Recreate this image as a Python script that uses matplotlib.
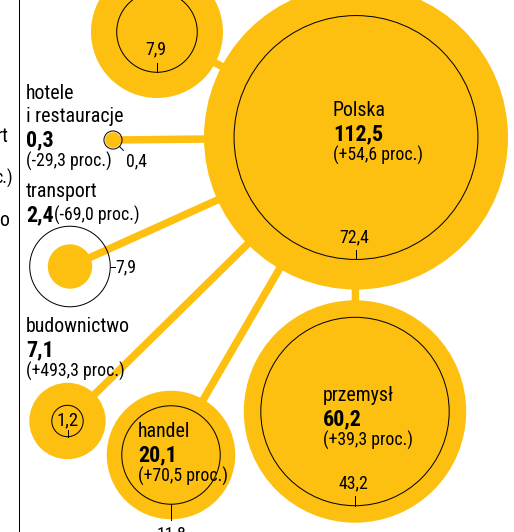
import matplotlib
matplotlib.use("Agg")
import matplotlib.pyplot as plt
from matplotlib import font_manager
from matplotlib.patches import Circle
import numpy as np

# ---- data -------------------------------------------------------------
sectors = ["Polska", "przemysł", "handel", "budownictwo", "transport",
           "hotele\ni restauracje", ""]
value_now = [112.5, 60.2, 20.1, 7.1, 2.4, 0.3, 21.2]
value_before = [72.4, 43.2, 11.8, 1.2, 7.9, 0.4, 7.9]
change_pct = ["+54,6", "+39,3", "+70,5", "+493,3", "-69,0", "-29,3", None]

# ---- layout -------------------------------------------------------------
# bubble centres (canvas pixels, y downwards) and how the old value is tagged
centres = [(356, 137.5), (355, 411.5), (171, 455), (67.5, 421),
           (70, 266.5), (113, 140), (157, 32)]
tag_style = ["inside", "inside", "below", "centre", "right", "diag", "inside"]
# text block: x, baseline of first line, value/change on one line?
text_pos = [(333, 116, False), (323, 401, False), (138, 437, False),
            (26, 332, False), (26, 197, True), (26, 99, False), None]

SCALE = 152 / np.sqrt(112.5)   # radius per sqrt(unit), area ~ value
YELLOW = "#FDC010"
W, H = 514, 532

avail = {f.name for f in font_manager.fontManager.ttflist}
for fam in ["Liberation Sans Narrow", "Roboto Condensed", "DejaVu Sans Condensed",
            "Liberation Sans"]:
    if fam in avail:
        FONT = fam
        break
else:
    FONT = "DejaVu Sans"
plt.rcParams["font.family"] = [FONT, "DejaVu Sans"]

fig = plt.figure(figsize=(W / 100, H / 100), dpi=100)
ax = fig.add_axes([0, 0, 1, 1])
ax.set_xlim(0, W)
ax.set_ylim(H, 0)
ax.axis("off")

px = 0.72  # points per pixel at 100 dpi

# connectors from the Polska bubble to each sector
hub = centres[0]
for c in centres[1:]:
    ax.plot([hub[0], c[0]], [hub[1], c[1]], color=YELLOW, lw=7.5 * px,
            solid_capstyle="butt", zorder=1)

# filled bubbles (current value) and outlines (previous value)
for (cx, cy), v_now in zip(centres, value_now):
    ax.add_patch(Circle((cx, cy), SCALE * np.sqrt(v_now), color=YELLOW,
                        lw=0, zorder=2))
for (cx, cy), v_old in zip(centres, value_before):
    ax.add_patch(Circle((cx, cy), SCALE * np.sqrt(v_old), fill=False,
                        ec="black", lw=1.0 * px, zorder=3))

# previous-value tags
FS_OLD = 12.8
for (cx, cy), v_now, v_old, style in zip(centres, value_now, value_before, tag_style):
    r_old = SCALE * np.sqrt(v_old)
    r_now = SCALE * np.sqrt(v_now)
    txt = f"{v_old:.1f}".replace(".", ",")
    if style == "inside":
        y0 = cy + r_old
        ax.plot([cx, cx], [y0, y0 - 9.5], color="black", lw=1.0 * px, zorder=4)
        ax.text(cx - 1.5, y0 - 17.5, txt, ha="center", va="baseline",
                fontsize=FS_OLD, zorder=5)
    elif style == "below":
        y0 = cy + r_old
        ax.plot([cx, cx], [y0, cy + r_now + 1], color="black", lw=1.0 * px, zorder=4)
        ax.text(cx, cy + r_now + 6, txt, ha="center", va="top",
                fontsize=FS_OLD, zorder=5)
    elif style == "centre":
        ax.plot([cx, cx], [cy + 9, cy + r_old], color="black", lw=1.0 * px, zorder=4)
        ax.text(cx, cy - 1, txt, ha="center", va="center",
                fontsize=FS_OLD + 0.6, zorder=5)
    elif style == "right":
        ax.plot([cx + r_old, cx + r_old + 5], [cy, cy], color="black",
                lw=1.0 * px, zorder=4)
        ax.text(cx + r_old + 5, cy + 1, txt, ha="left", va="center",
                fontsize=FS_OLD, zorder=5)
    elif style == "diag":
        d = np.sqrt(0.5)
        ax.plot([cx + r_old * d, cx + r_old * d + 4], [cy + r_old * d, cy + r_old * d + 4],
                color="black", lw=1.0 * px, zorder=4)
        ax.text(cx + 13, cy + 26, txt, ha="left", va="baseline",
                fontsize=FS_OLD, zorder=5)

# sector labels: name, current value (bold), change
FS_NAME, FS_VAL, FS_CHG = 14.3, 15.8, 12.8
for name, v, chg, pos in zip(sectors, value_now, change_pct, text_pos):
    if pos is None:
        continue
    x, y, inline = pos
    lines = name.split("\n")
    for i, ln in enumerate(lines):
        ax.text(x, y + 23 * i, ln, ha="left", va="baseline", fontsize=FS_NAME, zorder=6)
    yv = y + 23 * (len(lines) - 1) + 24
    vtxt = f"{v:.1f}".replace(".", ",")
    ax.text(x, yv, vtxt, ha="left", va="baseline", fontsize=FS_VAL,
            fontweight="bold", zorder=6)
    ctxt = f"({chg} proc.)"
    if inline:
        ax.text(x + 28, yv, ctxt, ha="left", va="baseline", fontsize=FS_CHG, zorder=6)
    else:
        ax.text(x, yv + 21, ctxt, ha="left", va="baseline", fontsize=FS_CHG, zorder=6)

# edge of the neighbouring panel
ax.plot([18.5, 18.5], [0, H], color="black", lw=1.0 * px, zorder=6)
ax.text(9, 142, "rt", ha="right", va="baseline", fontsize=FS_NAME)
ax.text(13, 184, "c.)", ha="right", va="baseline", fontsize=FS_CHG)
ax.text(9, 226, "o", ha="right", va="baseline", fontsize=FS_NAME)

fig.savefig("out.png", dpi=100)
